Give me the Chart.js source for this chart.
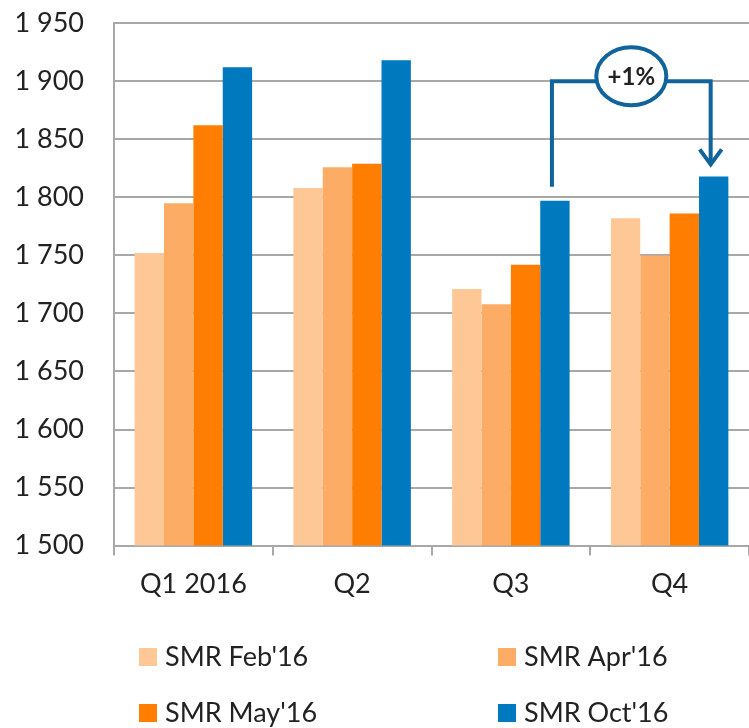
<!DOCTYPE html>
<html>
<head>
<meta charset="utf-8">
<script src="https://cdn.jsdelivr.net/npm/chart.js@4/dist/chart.umd.min.js"></script>
<style>
  html, body { margin: 0; padding: 0; background: #fff; overflow: hidden; }
  #wrap { width: 749px; height: 728px; overflow: hidden; }
  #chart { display: block; margin-top: -23px; }
</style>
</head>
<body>
<div id="wrap"><canvas id="chart" width="749" height="751"></canvas></div>
<script>
const quarters = ["Q1 2016", "Q2", "Q3", "Q4"];
const seriesNames = ["SMR Feb'16", "SMR Apr'16", "SMR May'16", "SMR Oct'16"];
const feb16 = [1752, 1808, 1721, 1782];
const apr16 = [1795, 1826, 1708, 1750];
const may16 = [1862, 1829, 1742, 1786];
const oct16 = [1912, 1918, 1797, 1818];
const colors = ["#fec896", "#fdac66", "#ff7d00", "#0079bf"];
const yTicks = [1500, 1550, 1600, 1650, 1700, 1750, 1800, 1850, 1900, 1950];
const changeLabel = "+1%";

const FONT = "Lato, 'Open Sans', sans-serif";
const TEXT = "#222";
const GRID = "#a8a8a8";
const NOTE = "#10649a";
const SHIFT = 23; // canvas is pulled up by this much

// bracket between Q3 and Q4 of the Oct'16 series
const bracketPlugin = {
  id: "bracket",
  afterDatasetsDraw(chart) {
    const ctx = chart.ctx;
    const y = chart.scales.y;
    const meta = chart.getDatasetMeta(3);
    const a = meta.data[2], b = meta.data[3];
    const x1 = a.x - 3, x2 = b.x - 3;
    const top = y.getPixelForValue(1900);
    const startY = a.y - 14;
    const endY = b.y - 12;
    ctx.save();
    ctx.strokeStyle = NOTE;
    ctx.lineWidth = 4;
    ctx.beginPath();
    ctx.moveTo(x1, startY);
    ctx.lineTo(x1, top);
    ctx.lineTo(x2, top);
    ctx.lineTo(x2, endY);
    ctx.stroke();
    // arrow head
    ctx.beginPath();
    ctx.moveTo(x2 - 11, endY - 15);
    ctx.lineTo(x2, endY);
    ctx.lineTo(x2 + 11, endY - 15);
    ctx.stroke();
    // ellipse with label
    const cx = (x1 + x2) / 2;
    const cy = top - 5;
    ctx.beginPath();
    ctx.ellipse(cx, cy, 35, 29, 0, 0, Math.PI * 2);
    ctx.fillStyle = "#fff";
    ctx.fill();
    ctx.stroke();
    ctx.fillStyle = TEXT;
    ctx.font = "bold 24px " + FONT;
    ctx.textAlign = "center";
    ctx.textBaseline = "middle";
    ctx.fillText(changeLabel, cx, cy + 1);
    ctx.restore();
  }
};

// two-column legend under the axis
const legendPlugin = {
  id: "gridLegend",
  afterDraw(chart) {
    const ctx = chart.ctx;
    const cols = [139, 498];
    const rows = [657 + SHIFT, 713 + SHIFT];
    ctx.save();
    ctx.font = "27px " + FONT;
    ctx.textBaseline = "middle";
    ctx.textAlign = "left";
    seriesNames.forEach((name, i) => {
      const x = cols[i % 2];
      const yy = rows[Math.floor(i / 2)];
      ctx.fillStyle = colors[i];
      ctx.fillRect(x, yy - 9, 18, 18);
      ctx.fillStyle = TEXT;
      ctx.fillText(name, x + 26, yy);
    });
    ctx.restore();
  }
};

const data = {
  labels: quarters,
  datasets: [feb16, apr16, may16, oct16].map((vals, i) => ({
    label: seriesNames[i],
    data: vals,
    backgroundColor: colors[i],
    borderWidth: 0,
    categoryPercentage: 0.74,
    barPercentage: 1.0
  }))
};

new Chart(document.getElementById("chart"), {
  type: "bar",
  data: data,
  options: {
    responsive: false,
    animation: false,
    layout: { padding: { top: 0, right: 0, left: 0, bottom: 116 } },
    plugins: {
      legend: { display: false },
      tooltip: { enabled: false }
    },
    scales: {
      x: {
        grid: {
          display: true,
          drawOnChartArea: false,
          offset: true,
          tickLength: 10,
          color: GRID,
          lineWidth: 2
        },
        border: { display: true, color: GRID, width: 2 },
        ticks: { color: TEXT, font: { family: FONT, size: 27 }, padding: 12 }
      },
      y: {
        min: 1500,
        max: 1950,
        afterBuildTicks(axis) {
          axis.ticks = yTicks.map(v => ({ value: v }));
        },
        afterFit(axis) {
          axis.width = 114;
        },
        grid: { color: GRID, lineWidth: 2, drawTicks: false },
        border: { display: true, color: GRID, width: 2 },
        ticks: {
          color: TEXT,
          font: { family: FONT, size: 27 },
          padding: 30,
          callback: v => String(v).replace(/(\d)(\d{3})$/, "$1 $2")
        }
      }
    }
  },
  plugins: [bracketPlugin, legendPlugin]
});
</script>
</body>
</html>
